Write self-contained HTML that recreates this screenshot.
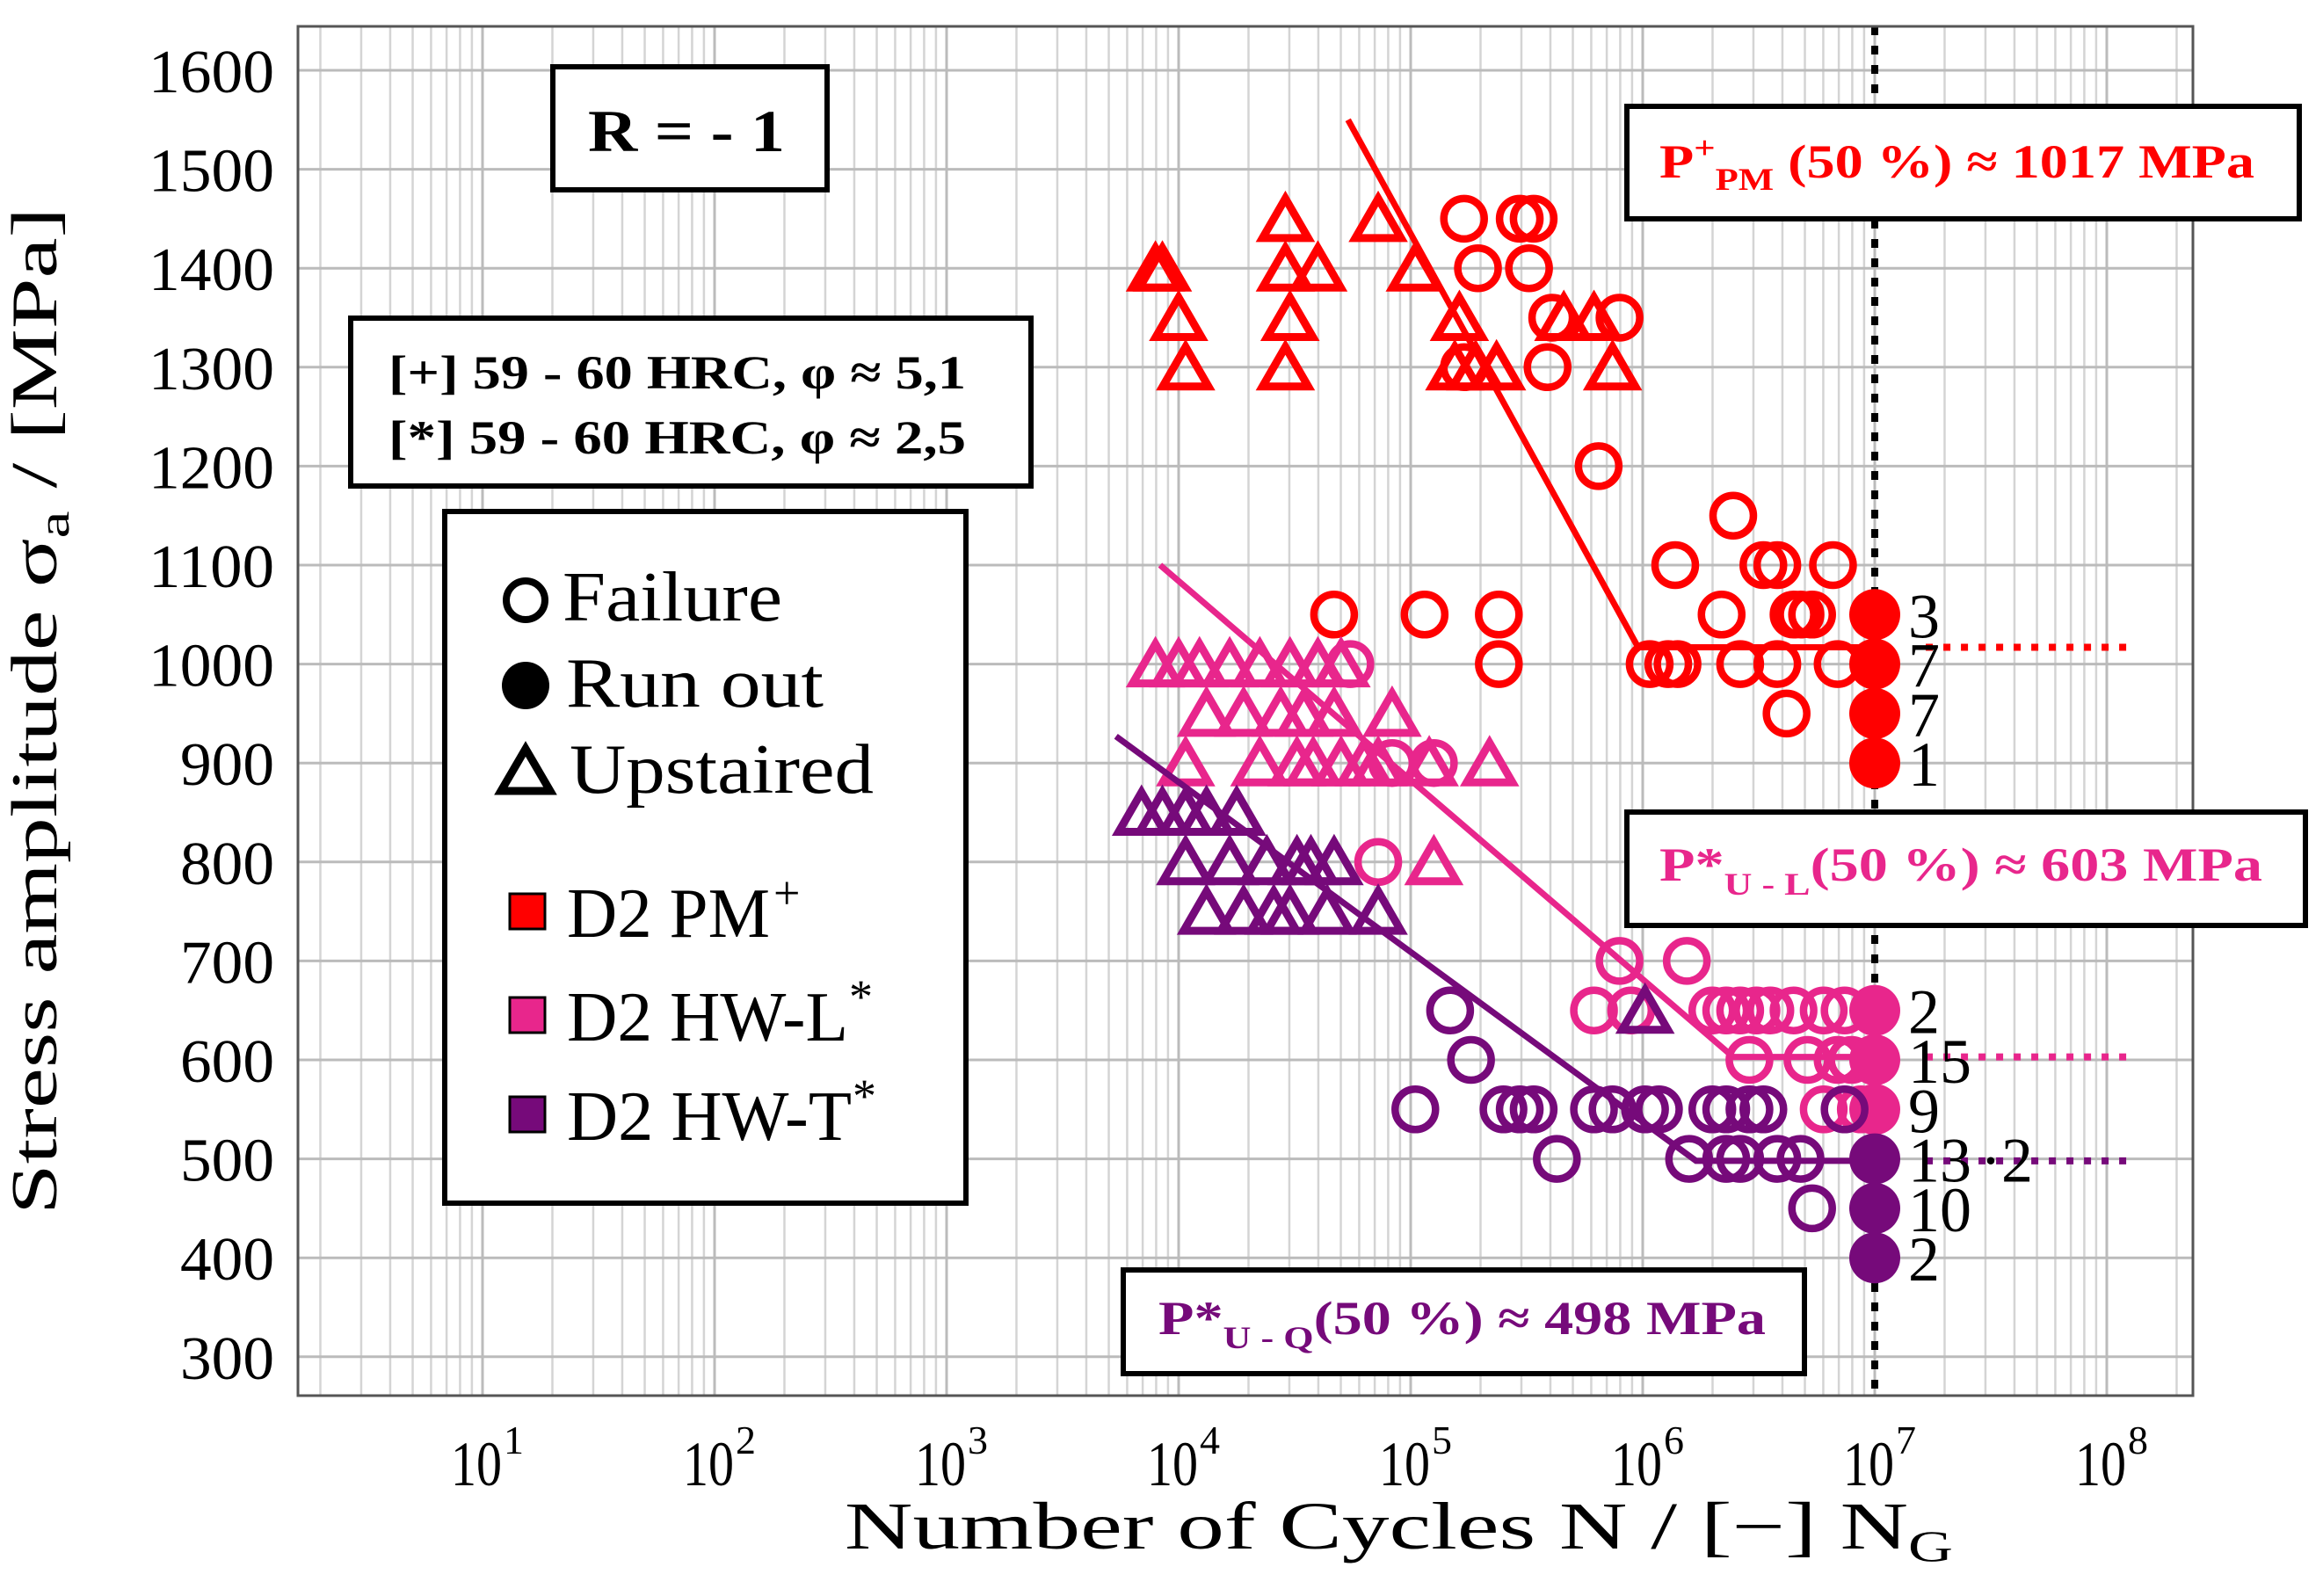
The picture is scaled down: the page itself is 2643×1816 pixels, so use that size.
<!DOCTYPE html>
<html><head><meta charset="utf-8"><style>
html,body{margin:0;padding:0;background:#fff}
svg{display:block}
text{font-family:"Liberation Serif",serif}
</style></head><body>
<svg id="chart" xmlns="http://www.w3.org/2000/svg" width="2643" height="1816" viewBox="0 0 2643 1816">
<rect width="2643" height="1816" fill="#fff"/>
<g id="grid"></g>
<g id="marks"></g>
<g id="axes"></g>

<text x="64" y="809" font-size="74" text-anchor="middle" textLength="1146" lengthAdjust="spacingAndGlyphs" transform="rotate(-90 64 809)">Stress amplitude σ<tspan font-size="50" dy="14">a</tspan><tspan dy="-14"> / [MPa]</tspan></text>
<text x="961" y="1762" font-size="76" textLength="1261" lengthAdjust="spacingAndGlyphs">Number of Cycles N / [−]  N<tspan font-size="50" dy="14">G</tspan></text>

<g>
<rect x="629" y="76" width="312" height="140" fill="#fff" stroke="#000" stroke-width="6"/>
<text x="669" y="172" font-size="68" font-weight="bold" textLength="224" lengthAdjust="spacingAndGlyphs">R = - 1</text>
</g>
<g>
<rect x="399" y="362" width="774" height="191" fill="#fff" stroke="#000" stroke-width="6"/>
<text x="442" y="442" font-size="54" font-weight="bold" textLength="657" lengthAdjust="spacingAndGlyphs">[+]   59 - 60 HRC, φ ≈ 5,1</text>
<text x="442" y="516" font-size="54" font-weight="bold" textLength="657" lengthAdjust="spacingAndGlyphs">[*]   59 - 60 HRC, φ ≈ 2,5</text>
</g>
<g>
<rect x="506" y="582" width="593" height="787" fill="#fff" stroke="#000" stroke-width="6"/>
<circle cx="598" cy="683" r="22" fill="none" stroke="#000" stroke-width="8"/>
<text x="640" y="706" font-size="80" textLength="250" lengthAdjust="spacingAndGlyphs">Failure</text>
<circle cx="598" cy="780" r="27" fill="#000"/>
<text x="644" y="804" font-size="80" textLength="293" lengthAdjust="spacingAndGlyphs">Run out</text>
<polygon points="570,900 626,900 598,852" fill="none" stroke="#000" stroke-width="9"/>
<text x="648" y="902" font-size="80" textLength="346" lengthAdjust="spacingAndGlyphs">Upstaired</text>
<rect x="580" y="1017" width="40" height="40" fill="#ff0000" stroke="#000" stroke-width="3"/>
<text x="645" y="1066" font-size="80" textLength="231" lengthAdjust="spacingAndGlyphs">D2 PM</text>
<text x="880" y="1034" font-size="54">+</text>
<rect x="580" y="1135" width="40" height="40" fill="#e8268c" stroke="#000" stroke-width="3"/>
<text x="645" y="1184" font-size="80" textLength="320" lengthAdjust="spacingAndGlyphs">D2 HW-L</text>
<text x="966" y="1152" font-size="54">*</text>
<rect x="580" y="1248" width="40" height="40" fill="#760a7a" stroke="#000" stroke-width="3"/>
<text x="645" y="1297" font-size="80" textLength="324" lengthAdjust="spacingAndGlyphs">D2 HW-T</text>
<text x="970" y="1265" font-size="54">*</text>
</g>

<g>
<rect x="1851" y="121" width="765" height="128" fill="#fff" stroke="#000" stroke-width="6"/>
<text x="1888" y="202" font-size="54" font-weight="bold" fill="#ff0000" textLength="677" lengthAdjust="spacingAndGlyphs">P<tspan font-size="36" dy="-22">+</tspan><tspan font-size="36" dy="36">PM</tspan><tspan dy="-14"> (50 %)  ≈ 1017 MPa</tspan></text>
</g>
<g>
<rect x="1851" y="924" width="772" height="129" fill="#fff" stroke="#000" stroke-width="6"/>
<text x="1888" y="1002" font-size="54" font-weight="bold" fill="#e8268c" textLength="686" lengthAdjust="spacingAndGlyphs">P*<tspan font-size="36" dy="16">U - L</tspan><tspan dy="-16">(50 %) ≈   603 MPa</tspan></text>
</g>
<g>
<rect x="1278" y="1445" width="775" height="118" fill="#fff" stroke="#000" stroke-width="6"/>
<text x="1318" y="1518" font-size="54" font-weight="bold" fill="#760a7a" textLength="691" lengthAdjust="spacingAndGlyphs">P*<tspan font-size="36" dy="16">U - Q</tspan><tspan dy="-16">(50 %) ≈   498 MPa</tspan></text>
</g>
</svg>
<script>
// ---- data (x = log10 N, y = stress amplitude MPa) ----
const xTicks = [1,2,3,4,5,6,7,8];
const yTicks = [300,400,500,600,700,800,900,1000,1100,1200,1300,1400,1500,1600];
const pmFailX = [5.23,5.47,5.53,5.29,5.51,5.61,5.23,5.59,5.90,5.81,6.14,6.39,6.52,6.58,6.65,6.73,6.82,6.34,4.67,5.06,5.38,5.38,6.03,6.11,6.15,6.42,6.58,6.84,6.62,6.68];
const pmFailY = [1450,1450,1450,1400,1400,1350,1300,1300,1350,1200,1100,1150,1100,1100,1050,1050,1100,1050,1050,1050,1050,1000,1000,1000,1000,1000,1000,1000,950,1050];
const pmUpX = [3.90,3.93,4.00,4.03,4.46,4.46,4.48,4.46,4.60,4.86,5.02,5.21,5.19,5.28,5.37,5.66,5.79,5.87];
const pmUpY = [1400,1400,1350,1300,1450,1400,1350,1300,1400,1450,1400,1350,1300,1300,1300,1350,1350,1300];
const pmRunX = [7,7,7,7];
const pmRunY = [1050,1000,950,900];
const pmRunCounts = ["3","7","7","1"];
const pmLineX = [4.73,5.98,7];
const pmLineY = [1550,1017,1017];
const hwlUpX = [3.90,4.00,4.09,4.22,4.35,4.48,4.60,4.70,4.12,4.28,4.44,4.54,4.67,4.92,4.03,4.35,4.51,4.58,4.70,4.80,4.86,5.08,5.34,5.10];
const hwlUpY = [1000,1000,1000,1000,1000,1000,1000,1000,950,950,950,950,950,950,900,900,900,900,900,900,900,900,900,800];
const hwlFailX = [4.74,4.92,5.10,4.86,5.90,6.19,5.79,5.95,6.30,6.36,6.42,6.49,6.55,6.65,6.78,6.87,6.46,6.71,6.84,6.90,6.78,6.94];
const hwlFailY = [1000,900,900,800,700,700,650,650,650,650,650,650,650,650,650,650,600,600,600,600,550,550];
const hwlRunX = [7,7,7];
const hwlRunY = [650,600,550];
const hwlRunCounts = ["2","15","9"];
const hwlLineX = [3.92,6.39,7];
const hwlLineY = [1100,603,603];
const hwtUpX = [3.84,3.93,4.03,4.12,4.25,4.03,4.22,4.38,4.51,4.57,4.67,4.12,4.28,4.41,4.48,4.64,4.86,6.01];
const hwtUpY = [850,850,850,850,850,800,800,800,800,800,800,750,750,750,750,750,750,650];
const hwtFailX = [5.17,5.26,5.02,5.40,5.47,5.53,5.63,5.79,5.87,6.01,6.07,6.30,6.36,6.46,6.52,6.87,6.20,6.36,6.42,6.58,6.68,6.73];
const hwtFailY = [650,600,550,550,550,550,500,550,550,550,550,550,550,550,550,550,500,500,500,500,500,450];
const hwtRunX = [7,7,7];
const hwtRunY = [500,450,400];
const hwtRunCounts = ["13","10","2"];
const hwtLineX = [3.73,6.23,7];
const hwtLineY = [927,498,498];
const extendX = [7.22,8.12];
const limitValues = [1017,603,498];

// ---- scales ----
const L=339,R=2495,T=30,B=1588;
const X0=2133, DEC=264;
function sx(v){return X0+(v-7)*DEC;}
const Y0=80, PER=112.6;
function sy(v){return Y0+(1600-v)*PER/100;}
const NS="http://www.w3.org/2000/svg";
function mk(tag,attrs,parent){const e=document.createElementNS(NS,tag);for(const k in attrs)e.setAttribute(k,attrs[k]);parent.appendChild(e);return e;}

const grid=document.getElementById('grid');
const marks=document.getElementById('marks');
const axes=document.getElementById('axes');
for(let d=0;d<=8;d++){for(let m=2;m<=9;m++){const v=d+Math.log10(m);const x=sx(v);if(x<=L||x>=R)continue;
 const ln=mk('line',{x1:x,x2:x,y1:T,y2:B,stroke:'#d4d4d4','stroke-width':2.5},grid);
 
 }}
for(const v of xTicks){const x=sx(v);
 const ln=mk('line',{x1:x,x2:x,y1:T,y2:B,stroke:'#bbbbbb','stroke-width':3},grid);
 
 
 const t=mk('text',{x:x-36,y:1690,'font-size':72,textLength:58,lengthAdjust:'spacingAndGlyphs'},axes);
 t.textContent='10';
 
 
 const s=mk('text',{x:x+24,y:1654,'font-size':46},axes);
 s.textContent=String(v);
 
 }
for(const v of yTicks){const y=sy(v);
 const ln=mk('line',{x1:L,x2:R,y1:y,y2:y,stroke:'#bbbbbb','stroke-width':3},grid);
 
 
 const s=String(v);
 const t=mk('text',{x:312-(s.length===4?143:107),y:y+25,'font-size':70,textLength:(s.length===4?143:107),lengthAdjust:'spacingAndGlyphs'},axes);
 t.textContent=s;
 
 }
const frame=mk('rect',{x:L,y:T,width:R-L,height:B-T,fill:'none',stroke:'#555','stroke-width':3},axes);


const ng=mk('line',{x1:sx(7),x2:sx(7),y1:T,y2:B,stroke:'#000','stroke-width':8,'stroke-dasharray':'10 12'},marks);



function series(col,fx,fy,ux,uy,rx,ry,counts,lx,ly,lim,name){
 const pts=lx.map((v,i)=>sx(v)+','+sy(ly[i])).join(' ');
 const pl=mk('polyline',{points:pts,fill:'none',stroke:col,'stroke-width':7},marks);
 
 
 const dl=mk('line',{x1:sx(extendX[0]),x2:sx(extendX[1]),y1:sy(lim),y2:sy(lim),stroke:col,'stroke-width':8,'stroke-dasharray':'8 12'},marks);
 
 
 ux.forEach((v,i)=>{const x=sx(v),y=sy(uy[i]);
  const p=mk('polygon',{points:(x-26)+','+(y+22)+' '+(x+26)+','+(y+22)+' '+x+','+(y-23),fill:'none',stroke:col,'stroke-width':9},marks);
  
  });
 fx.forEach((v,i)=>{
  const c=mk('circle',{cx:sx(v),cy:sy(fy[i]),r:23,fill:'none',stroke:col,'stroke-width':8.5},marks);
  
  });
 rx.forEach((v,i)=>{
  const c=mk('circle',{cx:sx(v),cy:sy(ry[i]),r:29,fill:col},marks);
  
  
  const t=mk('text',{x:sx(v)+38,y:sy(ry[i])+26,'font-size':72},marks);
  t.textContent=counts[i];
  
  });
}
series('#ff0000',pmFailX,pmFailY,pmUpX,pmUpY,pmRunX,pmRunY,pmRunCounts,pmLineX,pmLineY,limitValues[0],'d2-pm');
series('#e8268c',hwlFailX,hwlFailY,hwlUpX,hwlUpY,hwlRunX,hwlRunY,hwlRunCounts,hwlLineX,hwlLineY,limitValues[1],'d2-hw-l');
series('#760a7a',hwtFailX,hwtFailY,hwtUpX,hwtUpY,hwtRunX,hwtRunY,hwtRunCounts,hwtLineX,hwtLineY,limitValues[2],'d2-hw-t');
const extra=mk('text',{x:sx(7)+120,y:sy(500)+26,'font-size':72},marks);
extra.textContent='·2';


</script>
</body></html>
